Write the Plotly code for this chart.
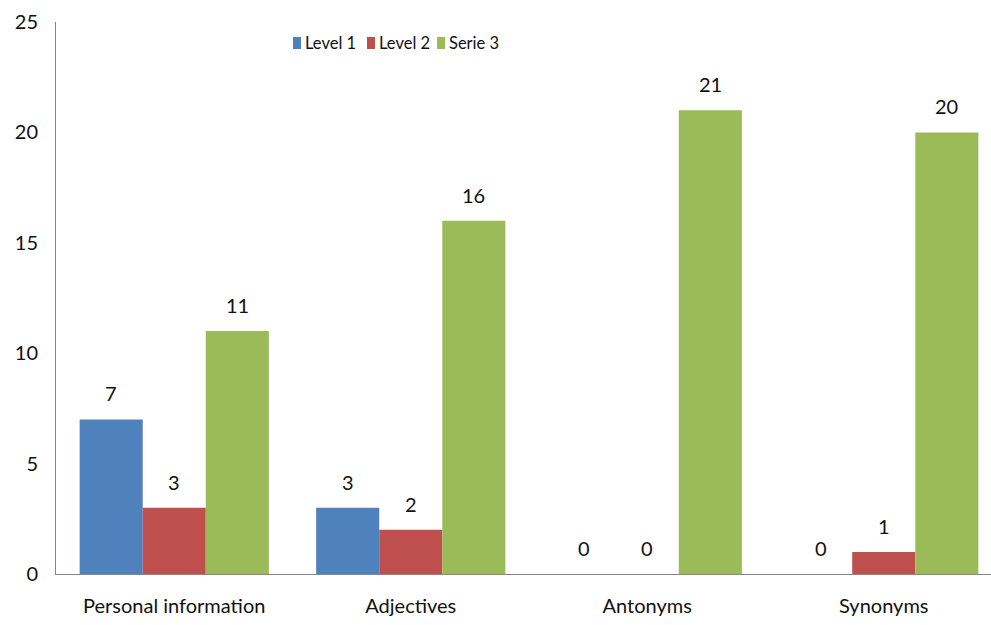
import plotly.graph_objects as go

categories = ["Personal information", "Adjectives", "Antonyms", "Synonyms"]
level1 = [7, 3, 0, 0]
level2 = [3, 2, 0, 1]
serie3 = [11, 16, 21, 20]
series_names = ["Level 1", "Level 2", "Serie 3"]
colors = ["#4F81BD", "#C0504D", "#9BBB59"]
y_ticks = [0, 5, 10, 15, 20, 25]

FONT = "Lato"
TXT = "#111"
PLOT_LEFT = 56
fig = go.Figure()
for name, vals, col in zip(series_names, [level1, level2, serie3], colors):
    fig.add_trace(go.Bar(name=name, x=categories, y=vals, marker_color=col,
                         marker_line_width=0, showlegend=False))

annotations = []
offsets = [-1, 0, 1]
for vals, off in zip([level1, level2, serie3], offsets):
    for i, v in enumerate(vals):
        annotations.append(dict(x=i + off * 0.8 / 3, y=v, xref="x", yref="y",
                                text=str(v), showarrow=False, yshift=26,
                                font=dict(family=FONT, size=20, color=TXT)))

# manual legend (pixel positions of swatches in the header)
legend_swatch_px = [293, 367, 437]
shapes = []
for name, col, px in zip(series_names, colors, legend_swatch_px):
    shapes.append(dict(type="rect", xref="paper", yref="paper",
                       xsizemode="pixel", ysizemode="pixel", xanchor=0, yanchor=1,
                       x0=px - PLOT_LEFT, x1=px - PLOT_LEFT + 8, y0=-27, y1=-15,
                       fillcolor=col, line_width=0))
    annotations.append(dict(x=0, y=1, xref="paper", yref="paper", xanchor="left",
                            yanchor="middle", xshift=px - PLOT_LEFT + 10, yshift=-21,
                            text=name, showarrow=False,
                            font=dict(family=FONT, size=16.5, color=TXT)))

fig.update_layout(
    width=991, height=625,
    margin=dict(l=PLOT_LEFT, r=0, t=22, b=51),
    plot_bgcolor="white", paper_bgcolor="white",
    barmode="group", bargap=0.2, bargroupgap=0,
    font=dict(family=FONT, size=20, color=TXT),
    showlegend=False,
    annotations=annotations,
    shapes=shapes,
    xaxis=dict(type="category", range=[-0.5, 3.4535], showline=True,
               linecolor="#868686", linewidth=1, ticks="", showgrid=False,
               ticklabelstandoff=14, tickfont=dict(size=20)),
    yaxis=dict(range=[0, 25], tickvals=y_ticks, showline=True, linecolor="#868686",
               linewidth=1, ticks="", showgrid=False, zeroline=False,
               ticklabelstandoff=13, tickfont=dict(size=20)),
)
fig.write_html("out.html")
